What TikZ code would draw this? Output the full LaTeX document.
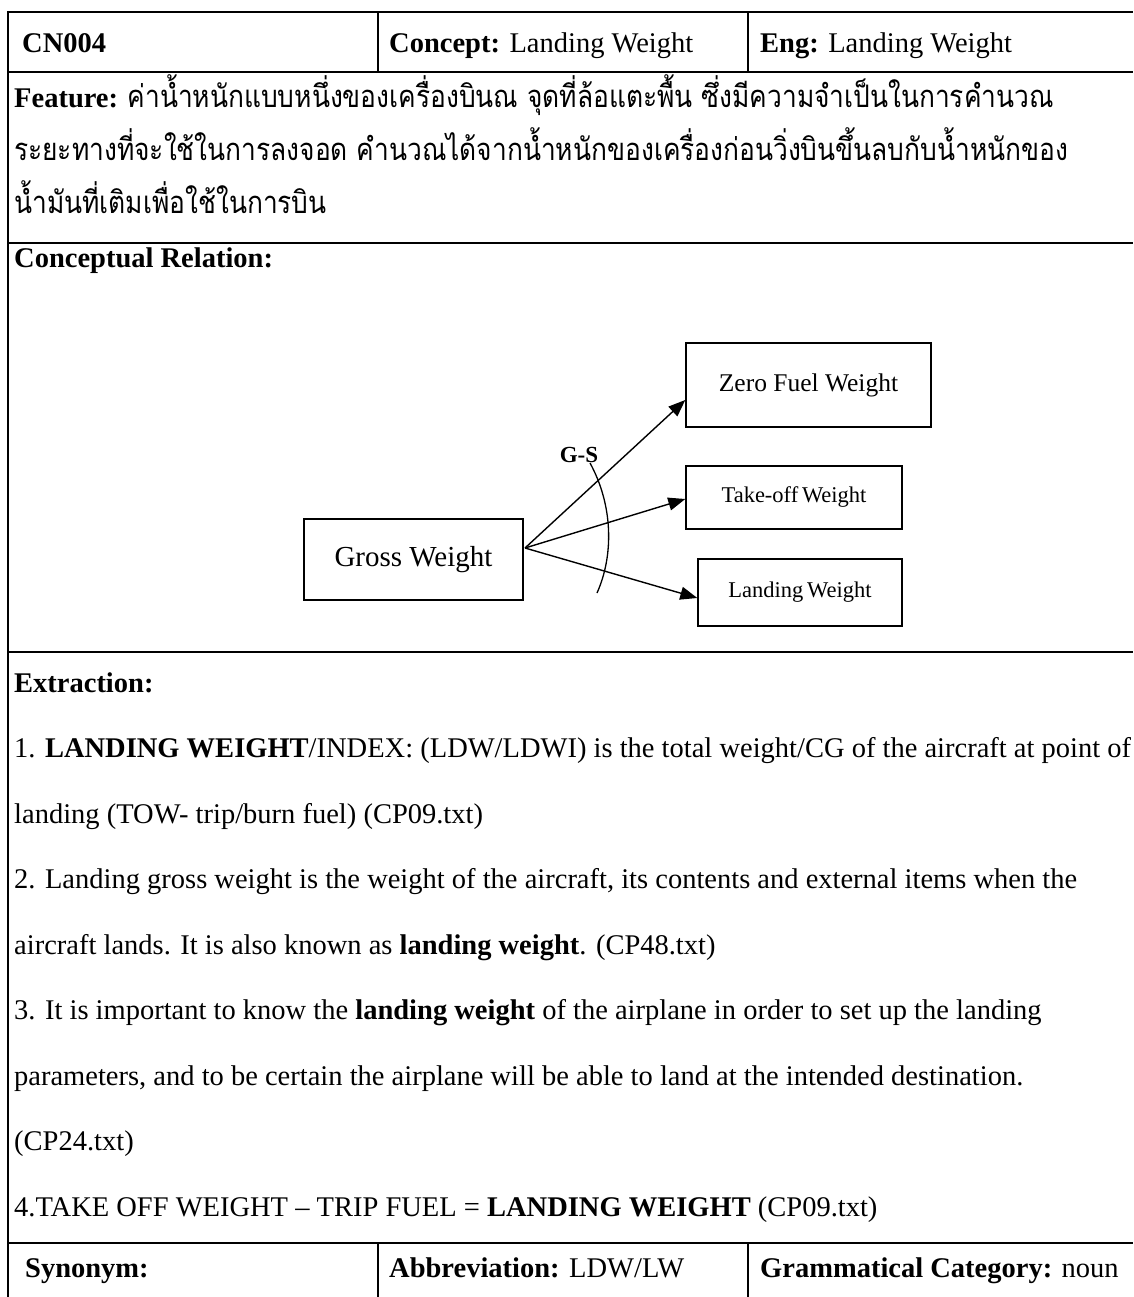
\documentclass[tikz,border=0pt]{standalone}
\usepackage{fontspec}
\setmainfont{Liberation Serif}
\newfontfamily\thaifont[Script=Thai,FakeStretch=0.85]{Loma}
\usetikzlibrary{arrows.meta}

\begin{document}
\begin{tikzpicture}[x=1pt,y=-1pt,
  rule/.style={line width=2.4pt},
  divider/.style={line width=1.3pt},
  txt/.style={anchor=base west, inner sep=0pt, font=\fontsize{28.5}{34}\selectfont},
  thai/.style={anchor=base west, inner sep=0pt, font=\fontsize{31}{36}\selectfont},
  box/.style={draw, line width=1.4pt, inner sep=0pt},
  link/.style={line width=1.4pt, -{Triangle[length=17pt,width=13pt]}}]

% page
\useasboundingbox[fill=white] (0,0) rectangle (1133,1297);

% table rules
\draw[rule] (8,12) -- (1133,12);
\draw[rule] (8,72) -- (1133,72);
\draw[rule] (8,243) -- (1133,243);
\draw[rule] (8,652) -- (1133,652);
\draw[rule] (8,1243) -- (1133,1243);
\draw[rule] (8,11) -- (8,1297);
\draw[divider] (378,12) -- (378,72);
\draw[divider] (748,12) -- (748,72);
\draw[divider] (378,1243) -- (378,1297);
\draw[divider] (748,1243) -- (748,1297);

% header row
\node[txt] (id) at (22,53) {\textbf{CN004}};
\node[txt] (concept) at (389,53) {\textbf{Concept:} Landing Weight};
\node[txt] (eng) at (760,53) {\textbf{Eng:} Landing Weight};

% feature
\node[txt] (feat1) at (14,108) {\textbf{Feature:} {\thaifont\fontsize{31}{36}\selectfont ค่าน้ำหนักแบบหนึ่งของเครื่องบินณ จุดที่ล้อแตะพื้น ซึ่งมีความจำเป็นในการคำนวณ}};
\node[thai] (feat2) at (14,161) {\thaifont ระยะทางที่จะใช้ในการลงจอด คำนวณได้จากน้ำหนักของเครื่องก่อนวิ่งบินขึ้นลบกับน้ำหนักของ};
\node[thai] (feat3) at (14,214) {\thaifont น้ำมันที่เติมเพื่อใช้ในการบิน};

% conceptual relation
\node[txt] (relhead) at (14,267) {\textbf{Conceptual Relation:}};

\node[box, minimum width=219pt, minimum height=81pt, font=\fontsize{29}{34}\selectfont] (gross) at (413.5,559.5) {Gross Weight};
\node[box, minimum width=245pt, minimum height=84pt, font=\fontsize{25.5}{30}\selectfont] (zero) at (808.5,385) {Zero Fuel Weight};
\node[box, minimum width=216pt, minimum height=63pt, font=\fontsize{22.5}{28}\selectfont] (take) at (794,497.5) {Take-off\,Weight};
\node[box, minimum width=204pt, minimum height=67pt, font=\fontsize{22.5}{28}\selectfont] (land) at (800,592.5) {Landing\,Weight};

\coordinate (hub) at (525,548);
\draw[link] (hub) -- ([yshift=-15pt]zero.west);
\draw[link] (hub) -- ([yshift=-1.5pt]take.west);
\draw[link] (hub) -- ([yshift=-5.5pt]land.west);

\draw[line width=1.3pt] (590,463) .. controls (613,505) and (614,555) .. (597,593);
\node[font=\bfseries\fontsize{23}{26}\selectfont, inner sep=0pt] (gs) at (579,455) {G-S};

% extraction
\node[txt] (exhead) at (14,692) {\textbf{Extraction:}};
\node[txt] (ex1) at (14,757.5) {1. \textbf{LANDING WEIGHT}/INDEX: (LDW/LDWI) is the total weight/CG of the aircraft at point of};
\node[txt] (ex2) at (14,823) {landing (TOW- trip/burn fuel) (CP09.txt)};
\node[txt] (ex3) at (14,888.5) {2. Landing gross weight is the weight of the aircraft, its contents and external items when the};
\node[txt] (ex4) at (14,954) {aircraft lands. It is also known as \textbf{landing weight}. (CP48.txt)};
\node[txt] (ex5) at (14,1019.5) {3. It is important to know the \textbf{landing weight} of the airplane in order to set up the landing};
\node[txt] (ex6) at (14,1085) {parameters, and to be certain the airplane will be able to land at the intended destination.};
\node[txt] (ex7) at (14,1150.5) {(CP24.txt)};
\node[txt] (ex8) at (14,1216) {4.TAKE OFF WEIGHT – TRIP FUEL = \textbf{LANDING WEIGHT} (CP09.txt)};

% footer row
\node[txt] (syn) at (25,1277) {\textbf{Synonym:}};
\node[txt] (abbr) at (389,1277) {\textbf{Abbreviation:} LDW/LW};
\node[txt] (gram) at (760,1277) {\textbf{Grammatical Category:} noun};
\end{tikzpicture}
\end{document}
